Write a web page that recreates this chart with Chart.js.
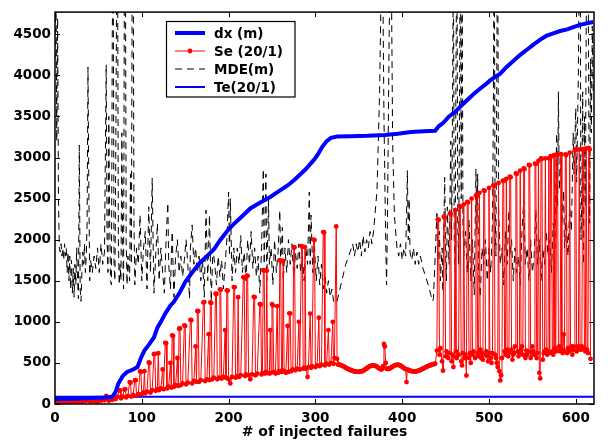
<!DOCTYPE html>
<html>
<head>
<meta charset="utf-8">
<script src="https://cdn.jsdelivr.net/npm/chart.js@4.4.1/dist/chart.umd.min.js"></script>
<style>
html, body { margin: 0; padding: 0; background: #fff; }
canvas { display: block; }
</style>
</head>
<body>
<canvas id="chart" width="608" height="444"></canvas>
<script>
// axis ranges and ticks
const xMax = 621;
const yMax = 4770;
const xTicks = [0, 100, 200, 300, 400, 500, 600];
const yTicks = [0, 500, 1000, 1500, 2000, 2500, 3000, 3500, 4000, 4500];
const xTitle = '# of injected failures';
const seriesLabels = ['dx (m)', 'Se (20/1)', 'MDE(m)', 'Te(20/1)'];

// dx (m): [failures, value]
const dxPts = [[0,60],[20,65],[40,72],[60,80],[66,90],[70,150],[73,250],[78,340],[83,390],[90,420],[95,450],[99,560],
	[103,650],[108,720],[114,810],[118,930],[122,1000],[127,1100],[133,1200],[137,1244],[144,1363],[150,1483],[158,1600],
	[167,1720],[175,1800],[183,1880],[190,1990],[198,2100],[205,2180],[215,2280],[225,2380],[236,2450],[248,2520],
	[258,2590],[268,2660],[276,2730],[283,2800],[289,2860],[294,2920],[299,2980],[303,3040],[308,3130],[313,3200],
	[318,3240],[325,3255],[340,3260],[360,3265],[380,3275],[395,3290],[410,3310],[425,3320],[438,3325],[442,3380],
	[447,3420],[454,3500],[461,3555],[468,3630],[475,3700],[482,3770],[490,3840],[496,3890],[501,3935],[507,3980],
	[513,4020],[520,4100],[528,4175],[536,4250],[544,4315],[552,4380],[559,4435],[566,4480],[574,4510],[582,4540],
	[590,4560],[598,4590],[605,4615],[613,4635],[620,4650]];

// Se (20/1)
const sePts = [[0,30],[1,15],[3,40],[5,20],[7,35],[9,10],[11,30],[13,25],[15,45],[17,20],[19,35],[21,15],[23,30],[25,40],
	[27,25],[29,50],[31,30],[33,45],[35,35],[37,55],[39,40],[41,30],[43,50],[45,35],[47,45],[49,30],[51,55],[53,40],
	[55,60],[57,45],[59,100],[60,70],[62,40],[64,55],[66,50],[68,70],
	[70,60],[72,90],[74,170],[75,165],[76,70],[78,90],[80,175],[81,180],[82,80],[84,100],[86,267],[87,260],[88,90],
	[90,110],[92,287],[93,290],[94,100],[96,120],[98,398],[99,390],[100,120],[102,140],[103,400],[104,130],[106,150],
	[108,506],[109,500],[110,140],[112,170],[114,606],[115,610],[116,160],[118,180],[119,618],[120,170],[122,190],
	[124,420],[125,180],[127,745],[128,740],[129,190],[131,210],[133,500],[134,200],[135,834],[136,830],[137,210],
	[139,230],[141,560],[142,220],[143,917],[144,920],[145,230],[147,250],[149,957],[150,950],[151,240],[153,260],
	[156,1025],[157,1020],[158,250],[160,280],[162,700],[163,270],[164,1132],[165,1130],[166,270],[168,290],[171,1236],
	[172,1240],[173,280],[175,300],[177,850],[178,290],[179,1236],[180,1230],[181,300],[183,320],[185,1343],[186,1340],
	[187,300],[189,320],[190,1396],[191,1390],[192,310],[194,330],[196,900],[197,320],[198,1384],[199,1380],[200,300],
	[202,250],[204,330],[206,1423],[207,1420],[208,320],[210,340],[211,1300],[212,330],[214,350],[217,1543],[218,1540],
	[219,340],[220,360],[221,1563],[222,1560],[223,350],[225,300],[227,360],[229,1304],[230,1300],[231,350],[233,370],
	[236,1216],[237,1210],[238,360],[239,380],[240,1630],[241,1625],[242,370],[243,390],[244,1623],[245,380],[247,370],
	[248,900],[249,380],[250,1216],[251,1200],[252,390],[254,370],[256,1192],[257,380],[258,400],[259,1750],[260,1745],
	[261,390],[262,410],[263,1742],[264,400],[266,380],[268,950],[269,390],[270,1104],[271,1100],[272,400],[274,420],
	[275,1910],[276,1905],[277,410],[279,430],[281,1000],[282,420],[284,1921],[285,1915],[286,430],[287,440],[288,1910],
	[289,430],[291,330],[292,450],[294,1100],[295,440],[296,460],[298,2001],[299,1995],[300,450],[302,470],[304,1050],
	[305,460],[307,480],[309,2093],[310,2090],[311,470],[313,490],[315,900],[316,480],[318,500],[320,1000],[321,490],
	[322,560],[324,2161],[325,550],
	[326,480],[327,479],[328,478],[329,474],[330,470],[331,465],[332,460],[333,454],[334,448],[335,441],[336,435],
	[337,430],[338,425],[339,420],[340,415],[341,411],[342,408],[343,404],[344,400],[345,397],[346,395],[347,393],
	[348,392],[349,392],[350,392],[351,393],[352,395],[353,397],[354,400],[355,405],[356,410],[357,418],[358,425],
	[359,432],[360,440],[361,448],[362,455],[363,460],[364,465],[365,468],[366,470],[367,469],[368,468],[369,464],
	[370,460],[371,452],[372,445],[373,437],[374,430],[375,425],[376,420],[377,430],[378,460],[379,730],[380,700],
	[381,500],[382,430],[383,425],[384,427],[385,430],[386,435],[387,440],[388,448],[389,455],[390,462],[391,468],
	[392,472],[393,475],[394,477],[395,478],[396,475],[397,472],[398,466],[399,460],[400,452],[401,445],[402,437],
	[403,430],[404,425],[405,267],[406,420],[407,415],[408,410],[409,406],[410,402],[411,400],[412,398],[413,397],
	[414,396],[415,397],[416,398],[417,400],[418,402],[419,406],[420,410],[421,415],[422,420],[423,425],[424,430],
	[425,435],[426,440],[427,446],[428,452],[429,457],[430,462],[431,466],[432,470],[433,474],[434,478],[435,482],
	[436,485],[437,488],[438,490],
	[440,650],[441,2248],[442,2240],[443,600],[444,680],[446,520],[447,406],[448,2280],[449,2270],[450,580],[451,640],
	[453,560],[454,620],[455,2320],[456,2315],[457,520],[458,600],[459,450],[460,580],[461,2360],[462,640],[463,560],
	[465,600],[466,2408],[467,2400],[468,520],[469,470],[470,620],[471,2430],[472,560],[473,600],[474,347],[475,2460],
	[476,2455],[477,560],[478,620],[479,500],[480,2500],[481,600],[482,640],[484,560],[485,2540],[486,2535],[487,620],
	[488,580],[489,2570],[490,660],[491,560],[492,620],[493,540],[494,2600],[495,2595],[496,600],[497,640],[498,580],
	[499,520],[500,2630],[501,620],[502,560],[503,500],[504,620],[505,2660],[506,2655],[507,600],[508,560],[509,500],
	[510,450],[511,2690],[512,400],[513,287],[514,350],[515,560],[516,2720],[517,2715],[518,640],[519,600],[520,2740],
	[521,660],[522,580],[523,620],[524,2766],[525,2760],[526,660],[527,540],[528,600],[529,620],[530,700],[531,2807],
	[532,2800],[533,640],[534,580],[535,620],[536,2840],[537,660],[538,700],[539,600],[540,2867],[541,2860],[542,560],
	[543,650],[544,600],[545,640],[546,2910],[547,2905],[548,560],[549,620],[550,700],[551,640],[552,600],[553,2926],
	[554,2920],[555,560],[556,620],[557,2960],[558,380],[559,311],[560,2990],[561,2985],[562,540],[563,620],[564,640],
	[565,2990],[566,660],[567,600],[568,640],[569,2990],[570,620],[571,3018],[572,3012],[573,640],[574,600],[575,3030],
	[576,680],[577,640],[578,3038],[579,3032],[580,650],[581,700],[582,640],[583,3040],[584,660],[585,620],[586,847],
	[587,640],[588,3038],[589,3030],[590,620],[591,680],[592,640],[593,3060],[594,660],[595,700],[596,600],[597,660],
	[598,700],[599,3098],[600,3090],[601,640],[602,660],[603,700],[604,3098],[605,680],[606,660],[607,700],[608,3098],
	[609,3090],[610,680],[611,640],[612,3110],[613,660],[614,620],[615,3118],[616,3100],[617,550]];

// MDE(m)
const mdePts = [[0,4200],[1,5500],[2,3200],[3,4700],[4,2500],[5,1900],[6,1850],[7,1950],[8,1800],[9,1900],[10,1750],
	[11,1950],[12,1800],[13,1900],[14,1600],[15,1850],[16,1500],[17,1800],[18,1400],[19,1750],[20,1350],[21,1650],
	[22,1300],[23,1700],[24,1450],[25,1900],[26,1500],[27,1280],[28,3150],[29,1400],[30,1250],[31,1600],[32,1850],
	[33,1700],[34,1950],[35,1600],[36,1800],[37,2200],[38,4100],[39,2600],[40,1500],[41,1750],[43,1600],[45,1800],
	[47,1650],[49,1900],[51,1600],[53,1950],[55,1700],[57,1850],[59,4130],[60,2000],[61,1600],[62,3500],[63,2200],
	[64,1500],[65,1450],[66,4500],[67,5600],[68,1700],[69,1500],[70,3000],[71,5000],[72,6000],[73,2000],[74,1450],
	[75,1700],[76,1500],[77,3300],[78,1900],[79,1400],[80,5500],[81,6000],[82,2000],[83,1450],[84,1800],[86,1500],
	[87,2800],[88,1700],[89,5400],[90,6000],[91,2200],[92,1450],[94,1900],[96,1700],[98,2300],[100,1500],[102,1900],
	[104,2100],[106,1400],[108,2400],
	[110,1600],[112,2750],[113,2000],[114,1350],[116,1800],[118,2200],[120,1500],[122,1900],[124,1600],[126,1350],
	[128,2000],[130,2450],[131,1700],[133,1400],[135,2100],[137,1300],[139,1800],[141,2000],[143,1600],[145,1800],
	[147,1550],[149,1750],[151,2000],[153,1700],[155,1280],[156,1900],[158,2180],[160,1700],[162,1900],[164,1600],
	[166,1800],[168,1500],[170,1750],[172,1300],[174,2360],[176,1500],[178,2300],[180,1250],[182,1900],[184,1700],
	[186,1450],[188,1800],[190,1550],[192,1750],[194,1400],[196,1700],[198,2000],[200,2580],[201,1800],[202,2500],
	[204,1500],[206,1900],[208,1600],[210,1900],[212,1700],[214,2050],[216,1600],[218,1850],[220,1500],[222,2000],
	[224,1700],[226,2100],[228,1650],[230,1900],[232,1550],[234,1800],[236,1350],[238,1900],[240,2860],[241,1700],
	[243,2800],[244,1500],[246,2500],[247,1700],[249,1900],[251,1450],[253,2000],[255,1600],[257,1850],[259,2360],
	[260,1700],[262,2150],[263,1500],[265,1900],[267,1600],[269,2000],[271,1700],[273,1950],[275,1550],[277,1850],
	[279,1650],[281,1950],[283,1600],[285,1800],[287,1500],[289,1900],[291,1700],[293,2580],[294,1700],[295,2300],
	[297,1600],[299,1900],[301,1500],[303,1800],[305,1450],[307,1700],[309,1400],[311,1600],[313,1350],[315,1500],
	[317,1300],[319,1400],[321,1250],[323,1220],[325,1250],[330,1480],[335,1700],[340,1850],[343,1950],[345,1800],
	[347,1950],[349,1850],[351,2000],[353,1800],[355,2050],[357,1850],[359,2000],[361,1900],[363,2100],[365,1950],
	[367,2100],[371,2600],[374,3800],[377,6000],[379,3500],[381,2000],[382,1450],[383,2200],[385,4500],[387,6000],
	[389,3200],[391,2300],[394,1900],[396,1800],[398,1950],[400,1750],[402,1900],[404,1800],[406,2840],[407,2000],
	[408,2500],[409,1850],[411,1750],[413,1900],[415,1700],[417,1850],[419,1700],[421,1800],[424,1650],[427,1550],
	[430,1450],[433,1330],[435,1250],[436,1280],[438,1800],[440,2320],[441,1700],[443,2100],[444,1500],[446,1900],
	[447,1360],[448,2200],[449,2760],[450,1800],[451,1500],[452,2400],[454,1700],[456,3200],[457,2000],[458,3640],
	[459,5500],[460,2000],[461,1600],[462,4110],[463,5800],[464,2200],[465,1700],[466,3500],[467,6000],[468,2500],
	[469,6000],[470,2200],[471,1800],[473,2100],[475,1600],[477,2240],[479,1500],[481,2000],[483,1330],[485,2860],
	[486,2100],[487,2800],[488,1600],[490,1300],[492,1900],[494,1700],[496,2000],[498,1500],[500,1900],[502,1600],
	[504,2200],[505,3500],[506,6000],[507,2500],[508,1800],[509,4000],[510,6000],[511,2400],[513,1700],[515,1900],
	[517,1450],[519,2100],[521,1700],[523,2360],[524,1800],[526,2000],[528,1500],[530,1900],[532,1600],[534,1800],
	[536,1450],[538,2100],[540,2480],[542,1700],[544,1900],[546,1500],[548,2000],[550,1600],[552,1800],[554,2360],
	[556,1700],[558,2000],[560,1500],[562,1900],[564,1700],[566,2100],[568,1800],[570,2000],[572,1600],[574,2200],
	[576,1900],[578,3300],[579,2400],[580,3800],[581,2600],[583,3000],[584,2200],[586,2600],[587,1900],[589,2300],
	[591,1800],[593,2400],[595,2100],[597,3300],[598,2800],[600,3600],[601,2700],[603,4000],[604,5500],[605,6000],
	[606,2000],[607,2600],[608,3800],[609,1700],[610,3500],[611,2400],[612,4500],[613,6000],[614,6000],[615,3500],
	[616,2200],[617,4200],[618,3300],[619,4600],[620,3800]];

// Te(20/1)
const tePts = [[0,88],[621,88]];

const toXY = pts => pts.map(([x, y]) => ({ x, y }));
const font = size => ({ family: 'DejaVu Sans', weight: 'bold', size });

const frame = {
	id: 'frame',
	afterDatasetsDraw(chart) {
		const { ctx, chartArea: a, scales: { x, y } } = chart;
		ctx.save();
		ctx.strokeStyle = '#000';
		ctx.lineWidth = 1;
		ctx.beginPath();
		xTicks.forEach(v => {
			const px = Math.round(x.getPixelForValue(v)) + 0.5;
			ctx.moveTo(px, a.bottom); ctx.lineTo(px, a.bottom - 5);
			ctx.moveTo(px, a.top); ctx.lineTo(px, a.top + 5);
		});
		yTicks.forEach(v => {
			const py = Math.round(y.getPixelForValue(v)) + 0.5;
			ctx.moveTo(a.left, py); ctx.lineTo(a.left + 5, py);
			ctx.moveTo(a.right, py); ctx.lineTo(a.right - 5, py);
		});
		ctx.stroke();
		ctx.lineWidth = 1.5;
		ctx.strokeRect(a.left, a.top, a.right - a.left, a.bottom - a.top);
		ctx.restore();
	},
	afterDraw(chart) {
		// legend box in the upper left of the plot
		const { ctx } = chart;
		ctx.save();
		ctx.fillStyle = '#fff';
		ctx.fillRect(166.5, 21.5, 128.5, 75.5);
		ctx.strokeStyle = '#000';
		ctx.lineWidth = 1.2;
		ctx.strokeRect(166.5, 21.5, 128.5, 75.5);
		ctx.font = 'bold 13.5px "DejaVu Sans"';
		ctx.textBaseline = 'middle';
		chart.data.datasets.forEach((ds, i) => {
			const ly = 33 + i * 18;
			ctx.strokeStyle = ds.borderColor;
			ctx.lineWidth = ds.borderWidth;
			ctx.setLineDash(ds.borderDash || []);
			ctx.beginPath();
			ctx.moveTo(175, ly);
			ctx.lineTo(205, ly);
			ctx.stroke();
			ctx.setLineDash([]);
			if (ds.pointRadius) {
				ctx.fillStyle = ds.pointBackgroundColor;
				ctx.beginPath();
				ctx.arc(190, ly, ds.pointRadius, 0, Math.PI * 2);
				ctx.fill();
			}
			ctx.fillStyle = '#000';
			ctx.fillText(ds.label, 214, ly + 1);
		});
		ctx.restore();
	}
};

new Chart(document.getElementById('chart'), {
	type: 'line',
	data: {
		datasets: [
			{ label: seriesLabels[0], data: toXY(dxPts), borderColor: '#0000ff', borderWidth: 4, pointRadius: 0 },
			{ label: seriesLabels[1], data: toXY(sePts), borderColor: '#ff0000', borderWidth: 1, pointRadius: 2.4,
				pointBackgroundColor: '#ff0000', pointBorderWidth: 0 },
			{ label: seriesLabels[2], data: toXY(mdePts), borderColor: '#000000', borderWidth: 1, borderDash: [7, 5], pointRadius: 0 },
			{ label: seriesLabels[3], data: toXY(tePts), borderColor: '#0000ff', borderWidth: 2, pointRadius: 0 },
		]
	},
	options: {
		responsive: false,
		animation: false,
		layout: { padding: { top: 5, right: 14, left: 0, bottom: 0 } },
		plugins: { legend: { display: false }, tooltip: { enabled: false } },
		scales: {
			x: {
				type: 'linear', min: 0, max: xMax,
				grid: { display: false, drawTicks: false },
				border: { display: false },
				afterBuildTicks: s => { s.ticks = xTicks.map(value => ({ value })); },
				afterFit: s => { s.height = 40; },
				ticks: { color: '#000', font: font(13.5), padding: 6, maxRotation: 0, callback: v => String(v) },
				title: { display: true, text: xTitle, color: '#000', font: font(14), padding: { top: 0, bottom: 3 } }
			},
			y: {
				min: 0, max: yMax,
				grid: { display: false, drawTicks: false },
				border: { display: false },
				afterBuildTicks: s => { s.ticks = yTicks.map(value => ({ value })); },
				afterFit: s => { s.width = 55; },
				ticks: { color: '#000', font: font(13.5), padding: 4, callback: v => String(v) }
			}
		}
	},
	plugins: [frame]
});
</script>
</body>
</html>
